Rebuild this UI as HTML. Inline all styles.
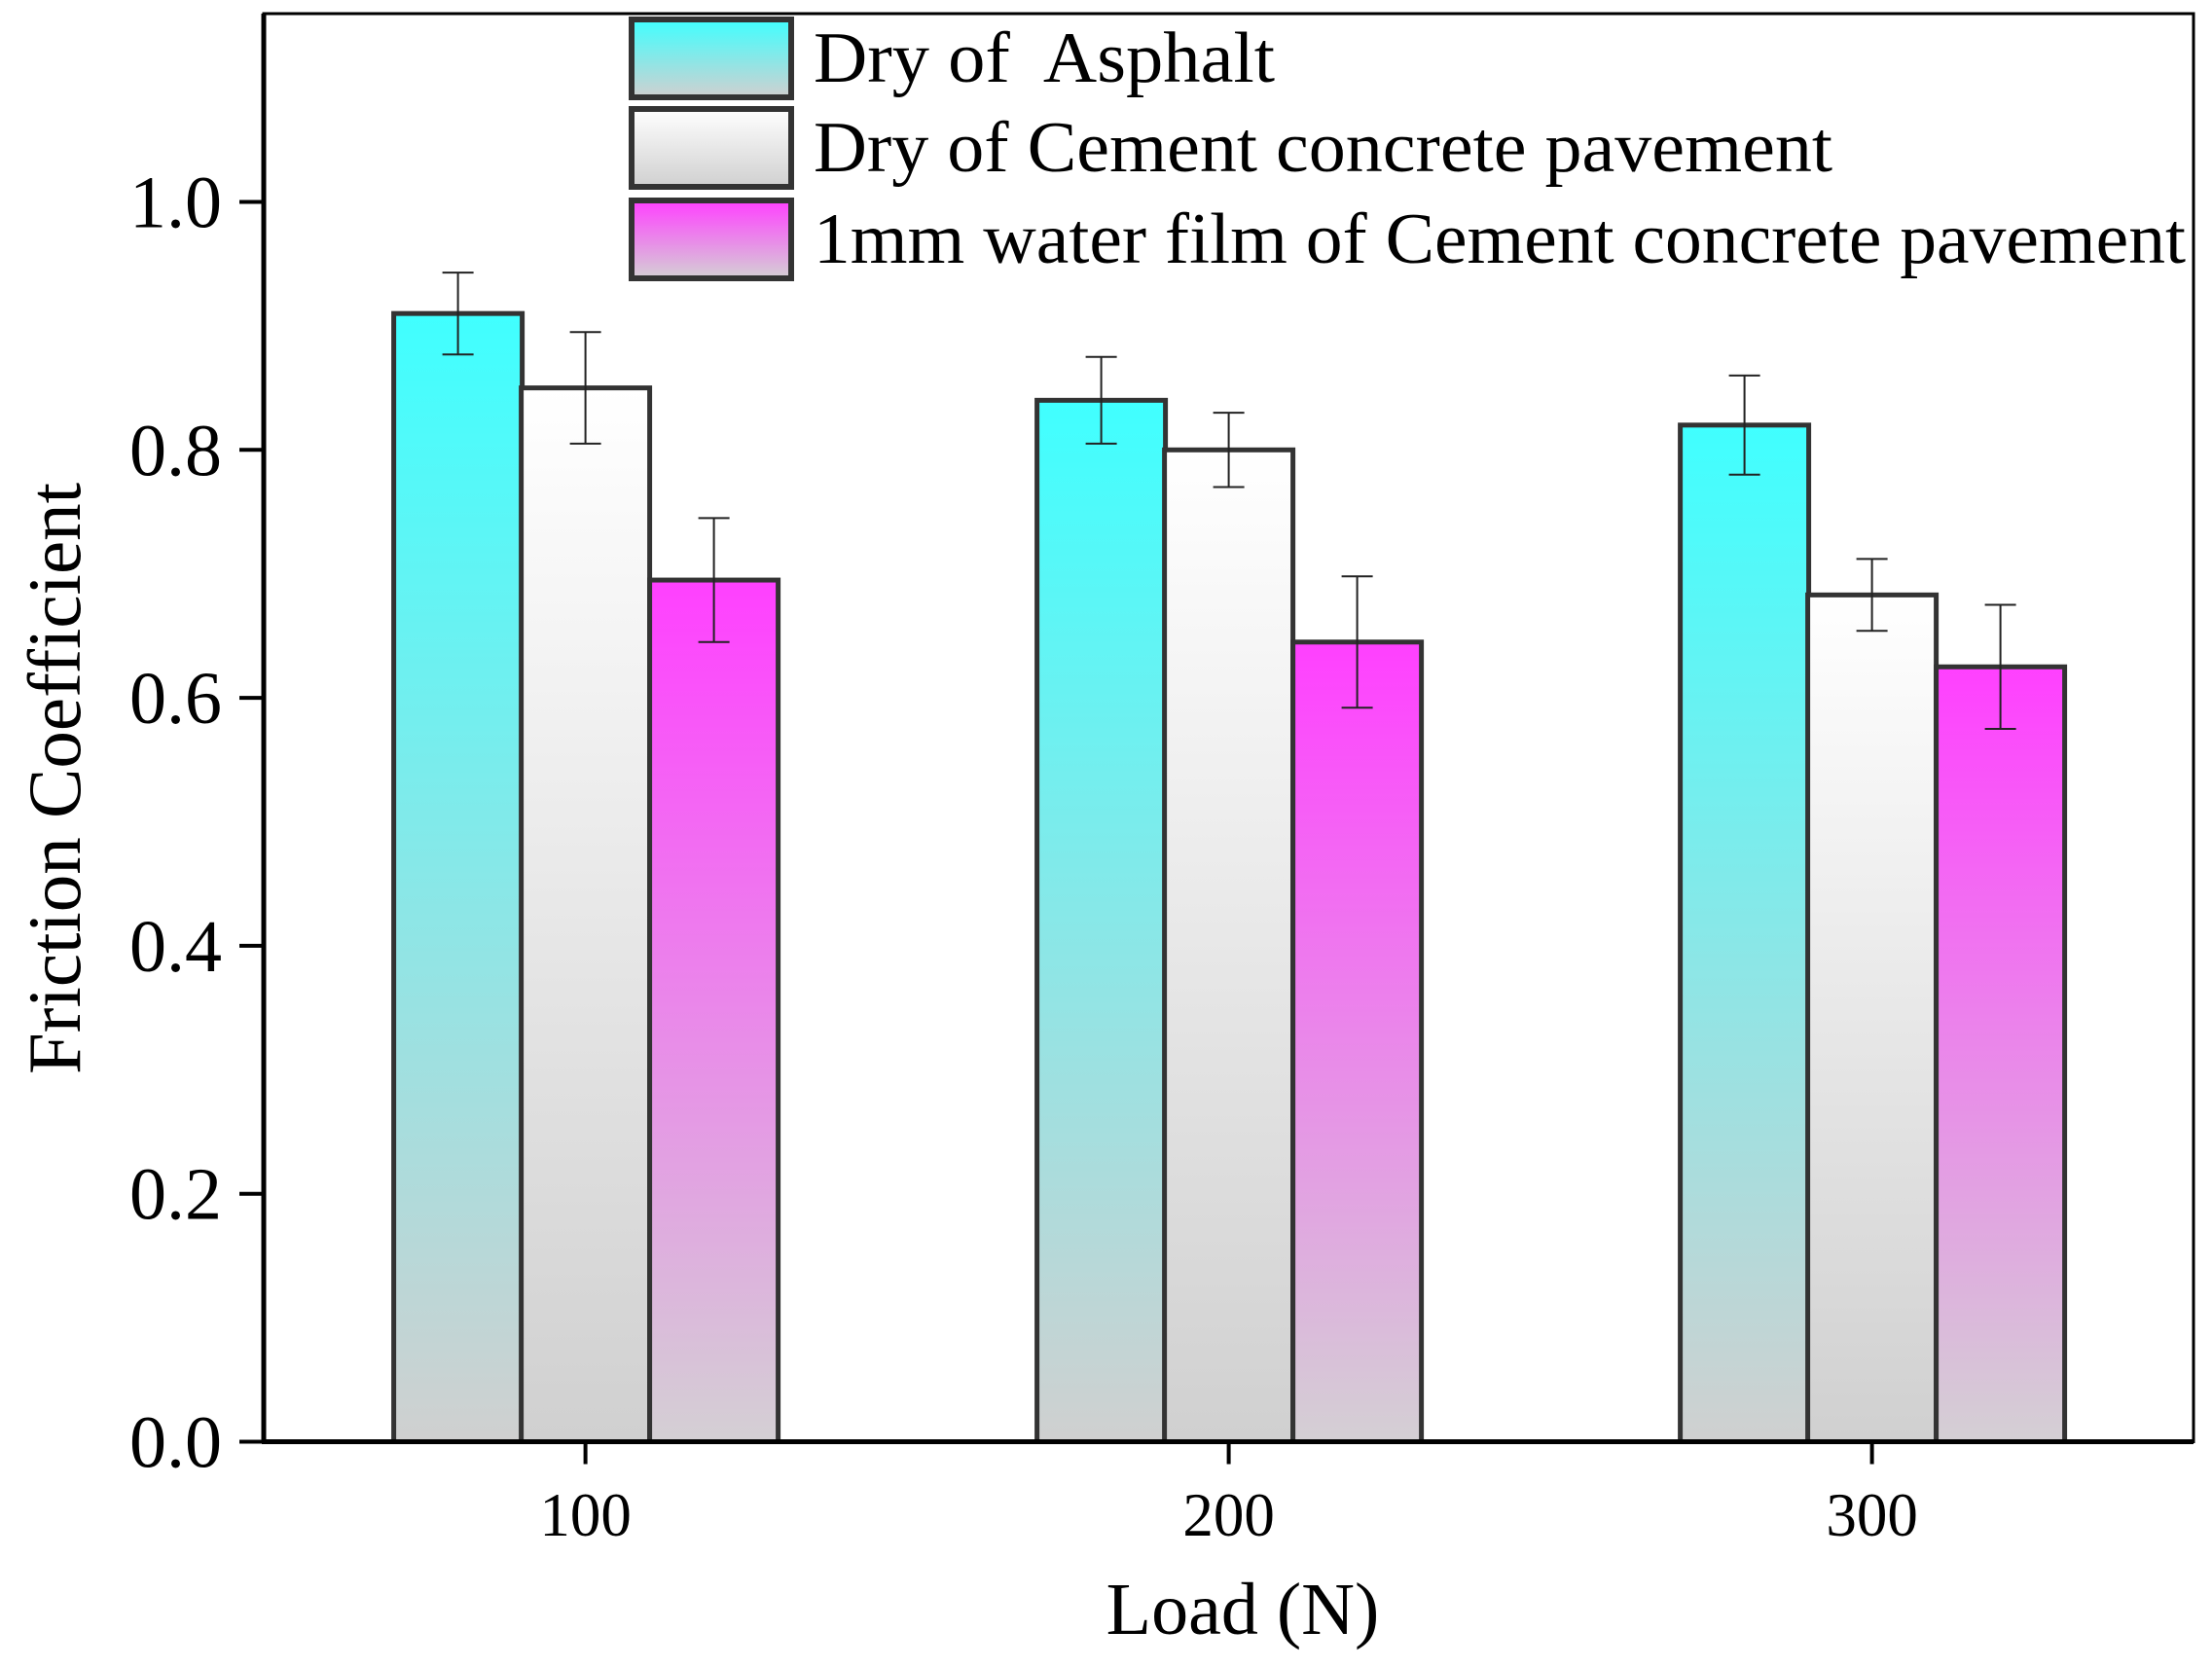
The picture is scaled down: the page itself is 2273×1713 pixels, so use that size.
<!DOCTYPE html>
<html><head><meta charset="utf-8"><style>
body{margin:0;background:#fff}
svg{display:block;font-family:"Liberation Serif",serif}
text{white-space:pre}
</style></head><body>
<svg id="chart" width="2273" height="1713" viewBox="0 0 2273 1713">
<defs>
<linearGradient id="gc" x1="0" y1="0" x2="0" y2="1"><stop offset="0" stop-color="#40ffff"/><stop offset="1" stop-color="#d0d0d0"/></linearGradient>
<linearGradient id="gw" x1="0" y1="0" x2="0" y2="1"><stop offset="0" stop-color="#ffffff"/><stop offset="1" stop-color="#d0d0d0"/></linearGradient>
<linearGradient id="gm" x1="0" y1="0" x2="0" y2="1"><stop offset="0" stop-color="#ff40ff"/><stop offset="1" stop-color="#d4d0d4"/></linearGradient>
</defs>
<g id="bars"></g>
<g id="axes"></g>
<g id="legend"></g>
</svg>
<script>
const categories=["100","200","300"];
const seriesNames=["Dry of  Asphalt","Dry of Cement concrete pavement","1mm water film of Cement concrete pavement"];
const asphalt=[0.91,0.84,0.82];
const cementDry=[0.85,0.80,0.683];
const cementWet=[0.695,0.645,0.625];
const errAsphalt=[0.033,0.035,0.04];
const errCementDry=[0.045,0.03,0.029];
const errCementWet=[0.05,0.053,0.05];
const yTicks=[0.0,0.2,0.4,0.6,0.8,1.0];

const NS="http://www.w3.org/2000/svg";
const L=271,R=2254,T=14,B=1481.5;
const y=v=>B-v*1274;
const xc=i=>601.6+i*661;
const bw=132, offs=[-131,0,132];
function mk(tag,attrs,parent,txt){const e=document.createElementNS(NS,tag);for(const k in attrs)e.setAttribute(k,attrs[k]);if(txt!==undefined)e.textContent=txt;parent.appendChild(e);return e;}
const bars=document.getElementById('bars'),axes=document.getElementById('axes'),leg=document.getElementById('legend');
const series=[asphalt,cementDry,cementWet],errs=[errAsphalt,errCementDry,errCementWet],fills=["url(#gc)","url(#gw)","url(#gm)"];
series.forEach((s,si)=>{s.forEach((v,i)=>{
  const cx=xc(i)+offs[si];
  const r=mk('rect',{x:cx-bw/2,y:y(v),width:bw,height:B-y(v),fill:fills[si],stroke:"#333",'stroke-width':5},bars);
  
  
  const e=errs[si][i];
  const g=mk('g',{stroke:"#222",'stroke-width':2,fill:"none"},bars);
  
  
  mk('line',{x1:cx,x2:cx,y1:y(v+e),y2:y(v-e)},g);
  mk('line',{x1:cx-16,x2:cx+16,y1:y(v+e),y2:y(v+e)},g);
  mk('line',{x1:cx-16,x2:cx+16,y1:y(v-e),y2:y(v-e)},g);
});});
const fr=mk('rect',{x:L,y:T,width:R-L,height:B-T,fill:"none",stroke:"#000",'stroke-width':3},axes);

const xa=mk('line',{x1:L-2,x2:R,y1:B,y2:B,stroke:"#000",'stroke-width':5},axes);

const ya=mk('line',{x1:L,x2:L,y1:T,y2:B+2,stroke:"#000",'stroke-width':5},axes);

yTicks.forEach(t=>{
  mk('line',{x1:L-25,x2:L,y1:y(t),y2:y(t),stroke:"#000",'stroke-width':4},axes);
  const tx=mk('text',{x:228,y:y(t)+26,'text-anchor':'end','font-size':76},axes,t.toFixed(1));
  
});
categories.forEach((c,i)=>{
  mk('line',{x1:xc(i),x2:xc(i),y1:B,y2:B+23,stroke:"#000",'stroke-width':4},axes);
  const tx=mk('text',{x:xc(i),y:1578,'text-anchor':'middle','font-size':63},axes,c);
  
});
const xt=mk('text',{x:1277,y:1679,'text-anchor':'middle','font-size':76},axes,"Load (N)");

const yt=mk('text',{x:0,y:0,'text-anchor':'middle','font-size':77,transform:'translate(82,800) rotate(-90)'},axes,"Friction Coefficient");

const ly=[20,112,206];
const lw=[474,1047,1410];
seriesNames.forEach((n,i)=>{
  const r=mk('rect',{x:649,y:ly[i],width:164,height:80,fill:fills[i],stroke:"#333",'stroke-width':6},leg);
  
  const t=mk('text',{x:836,y:ly[i]+64,'font-size':74,textLength:lw[i],lengthAdjust:'spacingAndGlyphs'},leg,n);
  
});
</script>
</body></html>
